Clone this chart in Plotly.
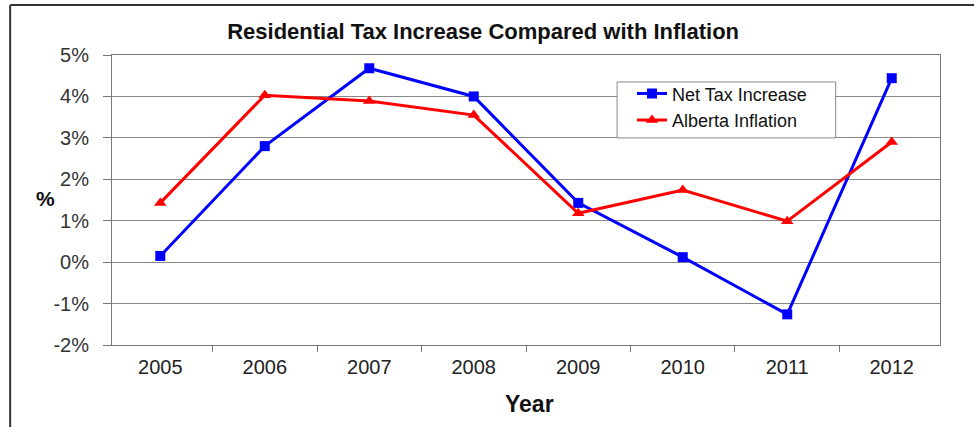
import plotly.graph_objects as go

years = ["2005", "2006", "2007", "2008", "2009", "2010", "2011", "2012"]
net_tax = [0.15, 2.8, 4.68, 4.0, 1.43, 0.12, -1.26, 4.44]
inflation = [1.43, 4.03, 3.89, 3.55, 1.18, 1.74, 0.99, 2.9]
y_ticks = [-2, -1, 0, 1, 2, 3, 4, 5]
y_labels = [f"{v}%" for v in y_ticks]

font = "Liberation Sans, Arial, sans-serif"

fig = go.Figure()
fig.add_trace(go.Scatter(
    x=years, y=net_tax, name="Net Tax Increase", mode="lines+markers",
    line=dict(color="#0000ff", width=3),
    marker=dict(symbol="square", size=10, color="#0000ff"),
))
fig.add_trace(go.Scatter(
    x=years, y=inflation, name="Alberta Inflation", mode="lines+markers",
    line=dict(color="#ff0000", width=3),
    marker=dict(symbol="triangle-up", size=11, color="#ff0000"),
))

fig.update_layout(
    width=974, height=427,
    margin=dict(l=112, r=34, t=55, b=82, autoexpand=False),
    paper_bgcolor="white", plot_bgcolor="white",
    font=dict(family=font, color="#222"),
    title=dict(text="<b>Residential Tax Increase Compared with Inflation</b>",
               x=0.496, xanchor="center", y=0.927, yanchor="middle",
               font=dict(size=22, color="#111")),
    legend=dict(x=0.628, y=0.93, xanchor="left", yanchor="top",
                bgcolor="rgba(0,0,0,0)", borderwidth=0,
                font=dict(size=18, color="#111"),
                tracegroupgap=0, itemwidth=30),
    showlegend=True,
    annotations=[
        dict(text="<b>%</b>", xref="paper", yref="paper", x=-0.08, y=0.505,
             xanchor="center", yanchor="middle", showarrow=False,
             font=dict(size=21, color="#111")),
        dict(text="<b>Year</b>", xref="paper", yref="paper", x=0.504, y=-0.203,
             xanchor="center", yanchor="middle", showarrow=False,
             font=dict(size=23, color="#111")),
    ],
)
fig.update_xaxes(
    type="category", tickson="boundaries", ticks="outside", ticklen=6,
    tickcolor="#777", showline=True, linecolor="#777", linewidth=1, mirror=True,
    showgrid=False, tickfont=dict(size=20, color="#222"), ticklabelstandoff=4,
    automargin=False,
)
fig.update_yaxes(
    range=[-2, 5], tickvals=y_ticks, ticktext=y_labels, ticks="outside",
    ticklen=8, tickcolor="#777", showline=True, linecolor="#777", linewidth=1,
    mirror=True, showgrid=True, gridcolor="#888", gridwidth=1, zeroline=False,
    tickfont=dict(size=20, color="#333"), ticklabelstandoff=10,
    automargin=False,
)
# legend box (drawn behind the legend entries)
fig.add_shape(type="rect", xref="paper", yref="paper", x0=0.61, x1=0.874,
              y0=0.714, y1=0.907, fillcolor="white",
              line=dict(color="#888", width=1), layer="above")
# outer frame lines of the picture
fig.add_shape(type="line", xref="paper", yref="paper", x0=-0.123, x1=1.05,
              y0=1.172, y1=1.172, line=dict(color="#333", width=2))
fig.add_shape(type="line", xref="paper", yref="paper", x0=-0.123, x1=-0.123,
              y0=1.172, y1=-0.3, line=dict(color="#333", width=2))

fig.write_html("out.html")
